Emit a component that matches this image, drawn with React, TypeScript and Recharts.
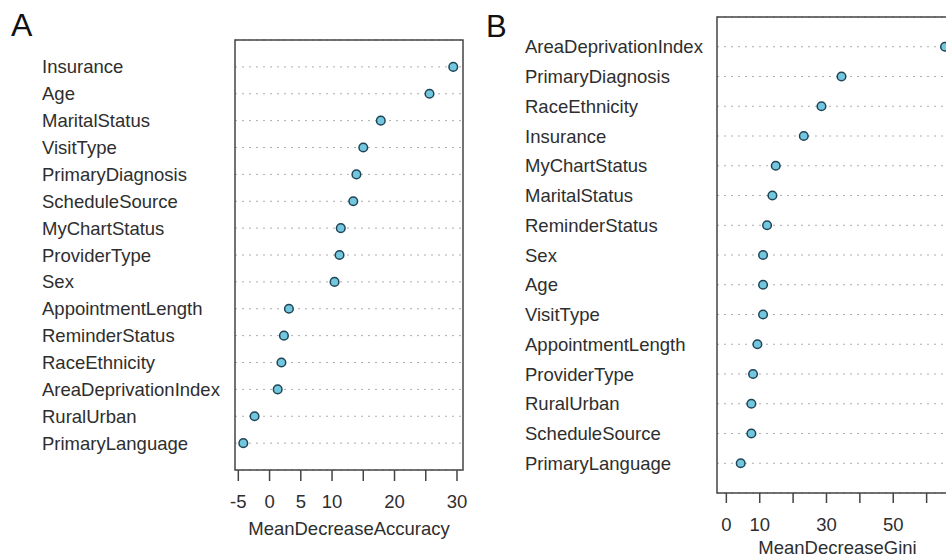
import { ScatterChart, Scatter, XAxis, YAxis, CartesianGrid, ReferenceArea } from 'recharts'

// Panel A: mean decrease in accuracy, rows top to bottom
const accuracyFeatures = [
  'Insurance', 'Age', 'MaritalStatus', 'VisitType', 'PrimaryDiagnosis',
  'ScheduleSource', 'MyChartStatus', 'ProviderType', 'Sex', 'AppointmentLength',
  'ReminderStatus', 'RaceEthnicity', 'AreaDeprivationIndex', 'RuralUrban', 'PrimaryLanguage',
]
const accuracyValues = [29.4, 25.6, 17.8, 15.0, 13.9, 13.4, 11.4, 11.2, 10.4, 3.1, 2.3, 1.9, 1.3, -2.4, -4.2]
const accuracyTicks = [-5, 0, 5, 10, 15, 20, 25, 30]
const accuracyTickLabels = [-5, 0, 5, 10, 20, 30]

// Panel B: mean decrease in Gini, rows top to bottom
const giniFeatures = [
  'AreaDeprivationIndex', 'PrimaryDiagnosis', 'RaceEthnicity', 'Insurance', 'MyChartStatus',
  'MaritalStatus', 'ReminderStatus', 'Sex', 'Age', 'VisitType',
  'AppointmentLength', 'ProviderType', 'RuralUrban', 'ScheduleSource', 'PrimaryLanguage',
]
const giniValues = [65.5, 34.5, 28.5, 23.2, 14.8, 13.8, 12.2, 11.0, 11.0, 11.0, 9.3, 8.0, 7.5, 7.5, 4.3]
const giniTicks = [0, 10, 20, 30, 40, 50, 60]
const giniTickLabels = [0, 10, 30, 50]

const FONT = '"Liberation Sans", Arial, Helvetica, sans-serif'
const TEXT = '#2e2e2e'
const BOX = '#444'
const FS = 18.5

const Dot = (props: { cx?: number; cy?: number }) => (
  <circle cx={props.cx} cy={props.cy} r={4.3} fill="#72c6dd" stroke="#1f4456" strokeWidth={1.5} />
)

interface PanelProps {
  features: string[]
  values: number[]
  ticks: number[]
  tickLabels: number[]
  domain: [number, number]
  title: string
  width: number
  margin: { top: number; right: number; bottom: number; left: number }
  axisHeight: number
  tickMargin: number
  tickSize: number
  titleOffset: number
  labelX: number
}

function DotPanel(p: PanelProps) {
  const data = p.features.map((name, i) => ({ name, row: i + 1, value: p.values[i] }))
  const rows = data.map(d => d.row)
  const rowCount = rows.length + 1

  const renderRowLabel = (props: { y?: number; payload?: { value: number } }) => (
    <text
      key={`row-${props.payload?.value}`}
      x={p.labelX} y={props.y} dy={6.5}
      textAnchor="start" fill={TEXT} fontSize={FS} fontFamily={FONT}
    >
      {p.features[(props.payload?.value ?? 1) - 1]}
    </text>
  )

  return (
    <ScatterChart width={p.width} height={558} margin={p.margin}>
      <CartesianGrid vertical={false} stroke="#adadad" strokeDasharray="2 5" />
      <XAxis
        type="number"
        dataKey="value"
        domain={p.domain}
        allowDataOverflow
        ticks={p.ticks}
        interval={0}
        height={p.axisHeight}
        axisLine={false}
        tickLine={{ stroke: BOX, strokeWidth: 1.5 }}
        tickSize={p.tickSize}
        tickMargin={p.tickMargin}
        tick={{ fill: TEXT, fontSize: FS, fontFamily: FONT }}
        tickFormatter={v => (p.tickLabels.includes(v) ? String(v) : '')}
        label={{
          value: p.title, position: 'insideBottom', offset: p.titleOffset,
          fill: TEXT, fontSize: FS, fontFamily: FONT,
        }}
      />
      <YAxis
        type="number"
        dataKey="row"
        domain={[0, rowCount]}
        reversed
        allowDataOverflow
        ticks={rows}
        interval={0}
        width={2}
        axisLine={false}
        tickLine={false}
        tick={renderRowLabel}
      />
      <ReferenceArea
        x1={p.domain[0]} x2={p.domain[1]} y1={0} y2={rowCount}
        fill="none" stroke={BOX} strokeWidth={1.5} ifOverflow="visible"
      />
      <Scatter data={data} shape={<Dot />} isAnimationActive={false} />
    </ScatterChart>
  )
}

export default function App() {
  return (
    <div style={{
      position: 'fixed', left: 0, top: 0, width: 946, height: 558,
      overflow: 'hidden', background: '#fff', fontFamily: FONT,
    }}>
      <div style={{ position: 'absolute', left: 0, top: 0 }}>
        <DotPanel
          features={accuracyFeatures}
          values={accuracyValues}
          ticks={accuracyTicks}
          tickLabels={accuracyTickLabels}
          domain={[-5.53, 30.96]}
          title="MeanDecreaseAccuracy"
          width={480}
          margin={{ top: 40, right: 17, bottom: 18, left: 233 }}
          axisHeight={70}
          tickSize={11}
          tickMargin={14}
          titleOffset={5}
          labelX={42}
        />
      </div>
      <div style={{ position: 'absolute', left: 480, top: 0 }}>
        <DotPanel
          features={giniFeatures}
          values={giniValues}
          ticks={giniTicks}
          tickLabels={giniTickLabels}
          domain={[-2.8, 69.4]}
          title="MeanDecreaseGini"
          width={500}
          margin={{ top: 17, right: 22, bottom: 0, left: 235 }}
          axisHeight={65}
          tickSize={10}
          tickMargin={15}
          titleOffset={4}
          labelX={45}
        />
      </div>
      <div style={{ position: 'absolute', left: 11, top: 9, fontSize: 32, lineHeight: 1, color: '#111' }}>A</div>
      <div style={{ position: 'absolute', left: 486, top: 11, fontSize: 31, lineHeight: 1, color: '#111' }}>B</div>
    </div>
  )
}
